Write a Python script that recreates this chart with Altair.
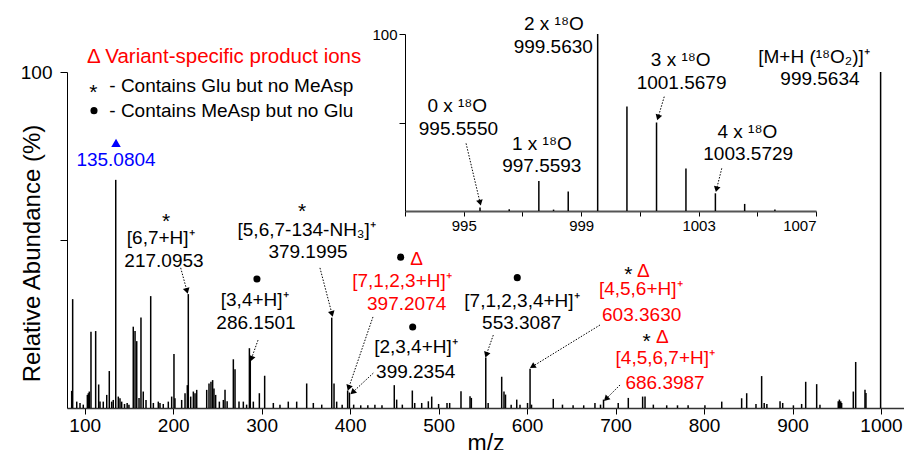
import altair as alt
import pandas as pd

FONT = "Liberation Sans"
RED = "#ff0000"
BLUE = "#0000ff"

# ---------------- main MS/MS spectrum (m/z, relative abundance %) ----------------
peak_mz = [85.3, 86.4, 91.0, 94.7, 98.4, 103.0, 104.1, 105.2, 107.1, 112.4, 115.8, 117.3,
           121.0, 124.9, 127.8, 130.5, 132.3, 135.0804, 138.0, 139.9, 141.8, 145.0, 148.0,
           150.0, 154.9, 156.9, 158.8, 161.4, 163.6, 166.2, 169.3, 174.6, 177.6, 183.2,
           185.1, 188.8, 194.5, 198.3, 200.9, 202.0, 209.6, 213.4, 216.0, 217.0953, 219.8,
           222.8, 224.7, 226.6, 237.9, 240.5, 242.7, 244.6, 246.1, 248.0, 252.2, 256.7,
           258.6, 261.0, 268.0, 269.9, 274.4, 279.3, 283.0, 286.1501, 287.15, 290.6, 297.4,
           303.4, 313.2, 320.7, 330.1, 339.6, 350.9, 358.4, 367.9, 379.1995, 381.8, 384.8,
           391.0, 397.2074, 399.2354, 404.0, 412.0, 420.0, 428.0, 436.0, 449.9, 452.6, 459.0,
           470.3, 473.0, 480.9, 488.4, 492.2, 500.0, 509.5, 512.5, 525.3, 535.5, 537.0,
           553.3087, 556.0, 571.3, 573.9, 575.6, 582.0, 588.3, 592.0, 600.5, 603.363, 605.0,
           629.6, 640.0, 652.0, 664.0, 676.7, 683.0, 686.3987, 703.0, 714.4, 730.6, 733.3,
           742.7, 757.8, 770.0, 782.0, 801.0, 820.0, 842.5, 848.2, 858.7, 865.1, 868.0,
           871.0, 885.9, 888.9, 901.0, 910.3, 914.9, 927.3, 931.0, 951.7, 953.0, 954.5,
           955.5, 968.7, 971.4, 981.9, 983.0, 999.5634]
peak_int = [5.1, 32.4, 1.9, 1.5, 1.0, 3.9, 4.4, 4.9, 22.7, 22.9, 7.0, 1.9,
            1.9, 3.9, 11.0, 1.9, 2.4, 67.9, 3.4, 2.9, 1.9, 1.2, 1.5,
            1.0, 24.2, 22.9, 19.9, 3.0, 26.9, 4.9, 2.4, 33.3, 1.5, 1.9,
            1.5, 1.2, 1.9, 3.4, 16.1, 2.9, 2.4, 4.4, 6.8, 33.9, 3.4,
            4.9, 4.4, 5.4, 5.4, 7.3, 7.8, 8.3, 5.8, 3.9, 1.9, 2.4,
            5.4, 2.0, 14.5, 11.5, 1.9, 1.9, 1.0, 17.8, 14.3, 1.9, 4.4,
            9.6, 1.5, 1.0, 1.9, 1.9, 7.3, 1.5, 1.0, 26.9, 7.3, 1.9,
            1.0, 5.2, 4.6, 1.0, 0.8, 0.8, 1.0, 0.8, 6.8, 2.5, 1.0,
            5.2, 1.5, 1.5, 2.0, 3.4, 1.2, 1.5, 1.5, 5.0, 3.5, 3.0,
            15.0, 1.5, 9.3, 4.9, 4.0, 1.0, 2.5, 1.0, 1.5, 11.7, 1.0,
            2.7, 1.0, 0.8, 0.8, 1.5, 1.0, 2.5, 1.5, 3.0, 3.4, 3.4,
            1.0, 0.8, 0.8, 0.8, 0.8, 1.9, 2.9, 4.4, 1.2, 9.5, 1.5,
            1.2, 2.0, 1.5, 0.8, 1.2, 7.8, 7.1, 1.0, 2.0, 2.5, 2.0,
            1.5, 4.9, 13.7, 5.4, 4.5, 100.0]

# ---------------- inset: isotope cluster ----------------
iso_mz = [995.555, 996.55, 997.5593, 998.06, 998.56, 999.563, 1000.56, 1001.5679,
          1002.57, 1003.5729, 1004.57, 1005.6]
iso_int = [2.0, 1.0, 17.0, 0.8, 11.0, 100.0, 59.0, 50.0, 24.0, 10.0, 4.0, 0.8]

# ---------------- annotations (data coordinates) ----------------
lab_text = ["[6,7+H]⁺", "217.0953", "[5,6,7-134-NH₃]⁺", "379.1995", "[3,4+H]⁺", "286.1501",
            "[2,3,4+H]⁺", "399.2354", "[7,1,2,3,4+H]⁺", "553.3087", "[M+H (¹⁸O₂)]⁺", "999.5634",
            "[7,1,2,3+H]⁺", "397.2074", "[4,5,6+H]⁺", "603.3630", "[4,5,6,7+H]⁺", "686.3987",
            "Δ", "Δ", "Δ", "135.0804"]
lab_x = [185.9, 189.6, 350.9, 352.4, 292.1, 293.6, 474.4, 474.1, 594.2, 593.9, 924.3, 931.0,
         458.6, 463.9, 728.4, 729.5, 756.2, 755.9, 475.2, 731.3, 752.8, 135.4]
lab_y = [50.6, 43.8, 53.0, 46.4, 32.1, 25.3, 18.2, 10.7, 31.8, 25.3, 104.5, 97.9,
         37.8, 31.0, 35.4, 27.7, 14.9, 7.4, 44.3, 40.9, 21.0, 73.8]
lab_color = ["black"] * 12 + [RED] * 9 + [BLUE]

star_x = [191.9, 345.6, 714.4, 735.2, 109.7]
star_y = [55.4, 58.3, 39.6, 19.6, 93.7]
dot_x = [294.7, 457.1, 470.7, 588.9, 110.5]
dot_y = [38.4, 44.9, 24.1, 38.8, 88.5]
tri_x = [135.4]
tri_y = [78.9]

legend_text = ["- Contains Glu but no MeAsp", "- Contains MeAsp but no Glu"]
legend_x = [127.8, 127.8]
legend_y = [95.8, 88.5]
legend_title = ["Δ Variant-specific product ions"]
legend_title_x = [102.6]
legend_title_y = [104.5]

arr_x = [208.5, 365.9, 295.9, 425.8, 426.2, 561.8, 682.4, 705.0]
arr_y = [41.7, 41.7, 20.2, 27.1, 10.4, 21.7, 24.7, 6.85]
arr_x2 = [215.3, 379.2, 288.7, 398.7, 403.6, 554.3, 607.0, 690.0]
arr_y2 = [35.1, 28.3, 14.9, 6.25, 4.85, 16.1, 12.5, 2.89]
arr_ang = [164.7, 165.4, 199.3, 198.9, 226.9, 199.2, 238.4, 225.0]

in_text = ["2 x ¹⁸O", "999.5630", "3 x ¹⁸O", "1001.5679", "0 x ¹⁸O", "995.5550",
           "1 x ¹⁸O", "997.5593", "4 x ¹⁸O", "1003.5729"]
in_x = [998.07, 998.05, 1002.39, 1002.42, 994.78, 994.82, 997.66, 997.66, 1004.66, 1004.69]
in_y = [105.6, 92.7, 85.3, 72.3, 59.3, 46.3, 37.9, 25.4, 44.6, 32.2]

in_arr_x = [1001.83, 995.08, 1003.79]
in_arr_y = [64.6, 38.2, 24.1]
in_arr_x2 = [1001.63, 995.55, 1003.62]
in_arr_y2 = [53.3, 5.2, 12.8]
in_arr_ang = [196.7, 166.5, 194.0]

# ---------------- tables ----------------
peaks = pd.DataFrame({"mz": peak_mz, "h": peak_int})
iso = pd.DataFrame({"mz": iso_mz, "h": iso_int})
labels = pd.DataFrame({"x": lab_x, "y": lab_y, "t": lab_text, "c": lab_color})
stars = pd.DataFrame({"x": star_x, "y": star_y})
dots = pd.DataFrame({"x": dot_x, "y": dot_y})
tris = pd.DataFrame({"x": tri_x, "y": tri_y})
legend = pd.DataFrame({"x": legend_x, "y": legend_y, "t": legend_text})
legend_t = pd.DataFrame({"x": legend_title_x, "y": legend_title_y, "t": legend_title})
arrows = pd.DataFrame({"x": arr_x, "y": arr_y, "x2": arr_x2, "y2": arr_y2, "a": arr_ang})
in_labels = pd.DataFrame({"x": in_x, "y": in_y, "t": in_text})
in_arrows = pd.DataFrame({"x": in_arr_x, "y": in_arr_y, "x2": in_arr_x2, "y2": in_arr_y2,
                          "a": in_arr_ang})

# ---------------- scales & axes ----------------
mx_scale = alt.Scale(domain=[80, 1026], nice=False, zero=False)
my_scale = alt.Scale(domain=[0, 100], nice=False)
ix_scale = alt.Scale(domain=[993, 1007], range=[338, 749], nice=False, zero=False)
iy_scale = alt.Scale(domain=[0, 100], range=[139, -38], nice=False)

mx_axis = alt.Axis(orient="bottom", values=list(range(100, 1001, 100)), grid=False,
                   format="d",
                   tickSize=6, tickColor="black", labelPadding=2, labelFont=FONT,
                   labelFontSize=19, labelColor="black", domainColor="#333333",
                   domainWidth=1.5, title="m/z", titleFont=FONT, titleFontSize=23,
                   titleFontWeight="normal", titleColor="black", titleBaseline="top",
                   titleY=24)
my_axis = alt.Axis(orient="left", values=[50, 100], grid=False,
                   labelExpr="datum.value == 100 ? '100' : ''",
                   tickSize=7, tickColor="black", labelPadding=8, labelFont=FONT,
                   labelFontSize=19, labelColor="black", domainColor="black",
                   domainWidth=1, title="Relative Abundance (%)", titleFont=FONT,
                   titleFontSize=24, titleFontWeight="normal", titleColor="black",
                   titleAngle=270, titleAlign="center", titleBaseline="middle",
                   titleX=-35, titleY=181)
ix_axis = alt.Axis(orient="bottom", offset=-197, values=list(range(993, 1008, 2)),
                   grid=False, format="d",
                   labelExpr="indexof([995, 999, 1003, 1007], datum.value) >= 0 ? format(datum.value, 'd') : ''",
                   tickSize=5, tickColor="black", labelPadding=2, labelFont=FONT,
                   labelFontSize=15, labelColor="black", domainColor="#555555",
                   domainWidth=2, title="")
iy_axis = alt.Axis(orient="left", offset=-338, values=[50, 100], grid=False,
                   labelExpr="datum.value == 100 ? '100' : ''",
                   tickSize=6, tickColor="black", labelPadding=2, labelFont=FONT,
                   labelFontSize=15, labelColor="black", domainColor="black",
                   domainWidth=1, title="")


def MX(f):
    return alt.X(f, type="quantitative", scale=mx_scale, axis=mx_axis)


def MY(f):
    return alt.Y(f, type="quantitative", scale=my_scale, axis=my_axis)


def IX(f):
    return alt.X(f, type="quantitative", scale=ix_scale, axis=ix_axis)


def IY(f):
    return alt.Y(f, type="quantitative", scale=iy_scale, axis=iy_axis)


# ---------------- main layers ----------------
m_peaks = alt.Chart(peaks).mark_rule(color="black", strokeWidth=1.5).encode(
    x=MX("mz"), y=MY("h"), y2=alt.datum(0))
m_arrows = alt.Chart(arrows).mark_rule(color="black", strokeWidth=1,
                                       strokeDash=[1.5, 1.5]).encode(
    x=MX("x"), y=MY("y"), x2="x2", y2="y2")
m_heads = alt.Chart(arrows).mark_point(shape="triangle", filled=True, color="black",
                                       size=45, opacity=1).encode(
    x=MX("x2"), y=MY("y2"), angle=alt.Angle("a:Q", scale=None))
m_labels = alt.Chart(labels).mark_text(font=FONT, fontSize=19, align="center",
                                       baseline="middle").encode(
    x=MX("x"), y=MY("y"), text="t:N", color=alt.Color("c:N", scale=None))
m_stars = alt.Chart(stars).mark_text(font=FONT, fontSize=21, align="center",
                                     baseline="middle", color="black").encode(
    x=MX("x"), y=MY("y"), text=alt.value("*"))
m_dots = alt.Chart(dots).mark_point(shape="circle", filled=True, color="black",
                                    size=50, opacity=1).encode(x=MX("x"), y=MY("y"))
m_tri = alt.Chart(tris).mark_point(shape="triangle-up", filled=True, color=BLUE,
                                   size=90, opacity=1).encode(x=MX("x"), y=MY("y"))
m_legend = alt.Chart(legend).mark_text(font=FONT, fontSize=19, align="left",
                                       baseline="middle", color="black").encode(
    x=MX("x"), y=MY("y"), text="t:N")
m_legend_t = alt.Chart(legend_t).mark_text(font=FONT, fontSize=20.5, align="left",
                                           baseline="middle", color=RED).encode(
    x=MX("x"), y=MY("y"), text="t:N")

main = alt.layer(m_peaks, m_arrows, m_heads, m_labels, m_stars, m_dots, m_tri,
                 m_legend, m_legend_t)

# ---------------- inset layers ----------------
i_peaks = alt.Chart(iso).mark_rule(color="black", strokeWidth=1.5).encode(
    x=IX("mz"), y=IY("h"), y2=alt.datum(0))
i_arrows = alt.Chart(in_arrows).mark_rule(color="black", strokeWidth=1,
                                          strokeDash=[1.5, 1.5]).encode(
    x=IX("x"), y=IY("y"), x2="x2", y2="y2")
i_heads = alt.Chart(in_arrows).mark_point(shape="triangle", filled=True, color="black",
                                          size=45, opacity=1).encode(
    x=IX("x2"), y=IY("y2"), angle=alt.Angle("a:Q", scale=None))
i_labels = alt.Chart(in_labels).mark_text(font=FONT, fontSize=19, align="center",
                                          baseline="middle", color="black").encode(
    x=IX("x"), y=IY("y"), text="t:N")

inset = alt.layer(i_peaks, i_arrows, i_heads, i_labels)

chart = alt.layer(main, inset).resolve_scale(
    x="independent", y="independent"
).properties(
    width=837, height=336,
    padding={"left": 67, "top": 72, "right": 0, "bottom": 42},
    autosize=alt.AutoSizeParams(type="none"),
    background="white",
).configure_view(strokeWidth=0)

chart.save("out.html", embed_options={"renderer": "svg", "actions": False})
